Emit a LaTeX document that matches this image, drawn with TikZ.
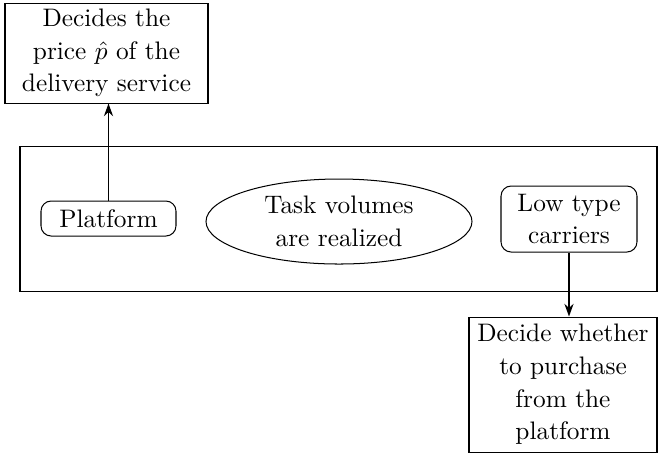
\documentclass[tikz,border=0pt]{standalone}
\usetikzlibrary{shapes.geometric,arrows.meta}
\begin{document}
\begin{tikzpicture}[x=0.395pt,y=-0.395pt,
  txt/.style={align=center,font=\fontsize{10}{12.9}\selectfont,inner sep=0pt},
  sqbox/.style={txt,draw},
  rbox/.style={txt,draw,rounded corners=4pt},
  oval/.style={txt,draw,ellipse},
  arr/.style={-{Stealth[length=5pt,width=3.6pt]},semithick}]
\useasboundingbox (0,0) rectangle (660,455);
\node[draw,minimum width={637*0.395pt},minimum height={145*0.395pt},inner sep=0pt] (frame) at (338.5,218.5) {};
\node[sqbox,minimum width={203*0.395pt},minimum height={100*0.395pt}] (dec) at (106.5,53) {Decides the\\price $\hat{p}$ of the\\delivery service};
\node[rbox,minimum width={135*0.395pt},minimum height={35*0.395pt}] (plat) at (108.5,218.5) {Platform};
\node[oval,minimum width={266*0.395pt},minimum height={85*0.395pt}] (task) at (339,221.5) {Task volumes\\are realized};
\node[rbox,minimum width={136*0.395pt},minimum height={66*0.395pt}] (low) at (569,219) {Low type\\carriers};
\node[sqbox,minimum width={188*0.395pt},minimum height={135*0.395pt}] (pur) at (563,384.5) {Decide whether\\to purchase\\from the\\platform};
\draw[arr] (plat.north) -- (plat.north |- dec.south);
\draw[arr] (low.south) -- (low.south |- pur.north);
\end{tikzpicture}
\end{document}
